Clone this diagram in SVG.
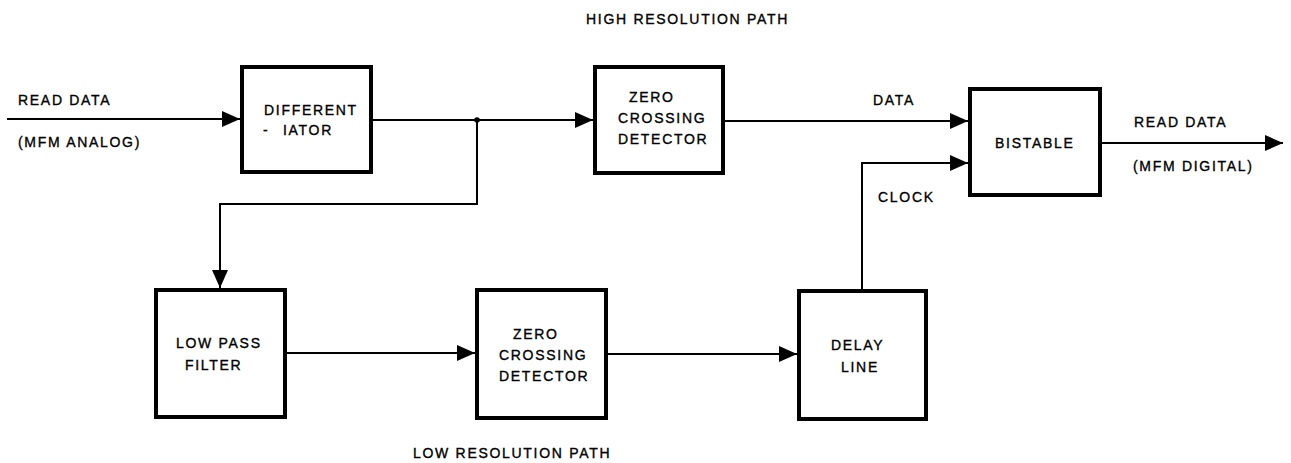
<svg xmlns="http://www.w3.org/2000/svg" width="1291" height="463" viewBox="0 0 1291 463">
  <style>
    .box { fill: #ffffff; stroke: #000000; stroke-width: 4; }
    .wire { fill: none; stroke: #000000; stroke-width: 2; }
    text { font-family: "Liberation Sans", Arial, Helvetica, sans-serif; font-size: 14px; letter-spacing: 1.7px; fill: #000000; stroke: #000000; stroke-width: 0.35; }
  </style>
  <defs>
    <marker id="arrow" viewBox="0 0 18 16" refX="18" refY="8" markerWidth="18" markerHeight="16" markerUnits="userSpaceOnUse" orient="auto">
      <path d="M0,0 L18,8 L0,16 z" fill="#000000"/>
    </marker>
  </defs>

  <rect width="1291" height="463" fill="#ffffff"/>

  <!-- path titles and signal labels -->
  <g id="labels">
    <text x="586" y="24">HIGH RESOLUTION PATH</text>
    <text x="413" y="458">LOW RESOLUTION PATH</text>
    <text x="18" y="105">READ DATA</text>
    <text x="18" y="147">(MFM ANALOG)</text>
    <text x="873" y="105">DATA</text>
    <text x="878" y="202">CLOCK</text>
    <text x="1134" y="127">READ DATA</text>
    <text x="1133" y="171">(MFM DIGITAL)</text>
  </g>

  <!-- signal connections -->
  <g id="connectors">
    <path class="wire" d="M7,119 H240" marker-end="url(#arrow)"/>
    <path class="wire" d="M373,120 H593" marker-end="url(#arrow)"/>
    <path class="wire" d="M477,120 V204 H220 V288" marker-end="url(#arrow)"/>
    <circle cx="477" cy="120" r="2.8" fill="#000000"/>
    <path class="wire" d="M725,121 H968" marker-end="url(#arrow)"/>
    <path class="wire" d="M287,353 H475" marker-end="url(#arrow)"/>
    <path class="wire" d="M608,354 H797" marker-end="url(#arrow)"/>
    <path class="wire" d="M862,289 V163 H968" marker-end="url(#arrow)"/>
    <path class="wire" d="M1102,143 H1283" marker-end="url(#arrow)"/>
  </g>

  <g id="differentiator">
    <rect class="box" x="242" y="67" width="129" height="105"/>
    <text x="264" y="115">DIFFERENT</text>
    <text x="263" y="135">-</text>
    <text x="283" y="135">IATOR</text>
  </g>

  <g id="zero-crossing-high">
    <rect class="box" x="595" y="67" width="128" height="106"/>
    <text x="629" y="102">ZERO</text>
    <text x="618" y="123">CROSSING</text>
    <text x="618" y="144">DETECTOR</text>
  </g>

  <g id="bistable">
    <rect class="box" x="970" y="89" width="130" height="106"/>
    <text x="995" y="148">BISTABLE</text>
  </g>

  <g id="low-pass-filter">
    <rect class="box" x="156" y="290" width="129" height="127"/>
    <text x="176" y="348">LOW PASS</text>
    <text x="185" y="370">FILTER</text>
  </g>

  <g id="zero-crossing-low">
    <rect class="box" x="477" y="290" width="129" height="128"/>
    <text x="513" y="339">ZERO</text>
    <text x="499" y="360">CROSSING</text>
    <text x="499" y="381">DETECTOR</text>
  </g>

  <g id="delay-line">
    <rect class="box" x="799" y="291" width="127" height="128"/>
    <text x="831" y="350">DELAY</text>
    <text x="841" y="372">LINE</text>
  </g>
</svg>
